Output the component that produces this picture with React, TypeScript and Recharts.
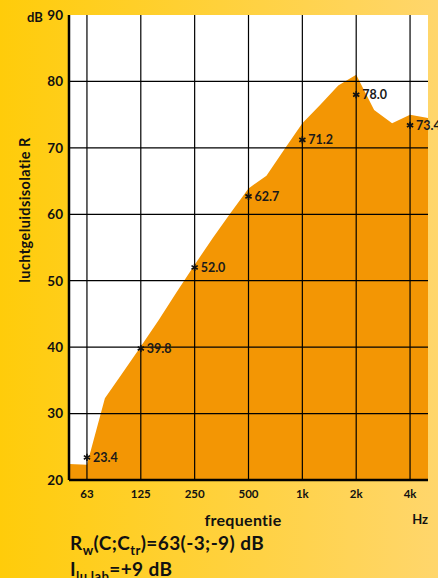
import { ComposedChart, Area, Line, XAxis, YAxis, CartesianGrid, ReferenceLine } from 'recharts';

// third-octave bands (50 Hz .. 5 kHz) and the measured curve
const bands = ['50', '63', '80', '100', '125', '160', '200', '250', '315', '400', '500', '630', '800', '1k', '1.25k', '1.6k', '2k', '2.5k', '3.15k', '4k', '5k'];
const thirdOctaveR = [22.4, 22.3, 32.3, 36.2, 40.1, 44.1, 48.3, 52.4, 56.4, 60.2, 63.9, 65.8, 69.8, 73.7, 76.5, 79.4, 81.0, 75.7, 73.7, 75.0, 74.5];

// octave values shown with a star
const octaveBands = ['63', '125', '250', '500', '1k', '2k', '4k'];
const octaveR = [23.4, 39.8, 52.0, 62.7, 71.2, 78.0, 73.4];

const yTicks = [20, 30, 40, 50, 60, 70, 80, 90];
const gridY = [30, 40, 50, 60, 70, 80];

const FONT = 'Lato, "Open Sans", sans-serif';

const data = bands.map((band, i) => {
  const o = octaveBands.indexOf(band);
  return {
    i,
    band,
    r: thirdOctaveR[i],
    m: o >= 0 ? octaveR[o] : null,
  };
});

const xTicks = octaveBands.map((b) => bands.indexOf(b));

const Star = (props: any) => {
  const { cx, cy, value, index } = props;
  if (value == null || cx == null || cy == null) return <g key={`s${index}`} />;
  const r = 3.6;
  return (
    <g key={`s${index}`}>
      {[90, 30, -30].map((a) => {
        const rad = (a * Math.PI) / 180;
        const dx = Math.cos(rad) * r;
        const dy = Math.sin(rad) * r;
        return (
          <line
            key={a}
            x1={cx - dx}
            y1={cy - dy}
            x2={cx + dx}
            y2={cy + dy}
            stroke='#111'
            strokeWidth={1.7}
          />
        );
      })}
      <text
        x={cx + 6}
        y={cy}
        dy='0.35em'
        fontSize={12.5}
        fontWeight={700}
        fill='#1a1a1a'
        fontFamily={FONT}
      >
        {value.toFixed(1)}
      </text>
    </g>
  );
};

const App = () => {
  return (
    <div
      style={{
        position: 'absolute',
        left: 0,
        top: 0,
        width: 438,
        height: 578,
        overflow: 'hidden',
        background: 'linear-gradient(to right, #FFCC0A, #FFD66C)',
        fontFamily: FONT,
        color: '#111',
      }}
    >
      <ComposedChart
        width={438}
        height={578}
        data={data}
        margin={{ top: 15, right: 10, bottom: 0, left: 0 }}
        style={{ position: 'absolute', left: 0, top: 0 }}
      >
        <CartesianGrid
          fill='#ffffff'
          fillOpacity={1}
          stroke='none'
          horizontal={false}
          vertical={false}
        />
        <XAxis
          type='number'
          dataKey='i'
          domain={[0, bands.length - 1]}
          ticks={xTicks}
          tickFormatter={(v) => bands[v]}
          height={98}
          axisLine={{ stroke: '#000', strokeWidth: 2.5 }}
          tickLine={false}
          tickSize={6}
          tickMargin={4}
          tick={{ fill: '#111', fontSize: 11.5, fontWeight: 700, fontFamily: FONT }}
          interval={0}
        />
        <YAxis
          type='number'
          domain={[20, 90]}
          ticks={yTicks}
          width={69}
          axisLine={{ stroke: '#000', strokeWidth: 2.5 }}
          tickLine={false}
          tickSize={4}
          tickMargin={2}
          tick={{ fill: '#111', fontSize: 13.5, fontWeight: 700, fontFamily: FONT }}
          interval={0}
        />
        <Area
          type='linear'
          dataKey='r'
          fill='#F39604'
          fillOpacity={1}
          stroke='none'
          baseValue={20}
          isAnimationActive={false}
          activeDot={false}
        />
        {xTicks.map((x) => (
          <ReferenceLine
            key={`vx${x}`}
            x={x}
            stroke='#000'
            strokeWidth={1.2}
          />
        ))}
        {gridY.map((y) => (
          <ReferenceLine
            key={`hy${y}`}
            y={y}
            stroke='#000'
            strokeWidth={1.2}
          />
        ))}
        <Line
          type='linear'
          dataKey='m'
          stroke='none'
          dot={Star}
          activeDot={false}
          isAnimationActive={false}
          connectNulls={false}
        />
      </ComposedChart>

      <div style={{ position: 'absolute', left: 27, top: 9, fontSize: 13, fontWeight: 700 }}>dB</div>
      <div
        style={{
          position: 'absolute',
          left: 24,
          top: 210,
          fontSize: 14.5,
          fontWeight: 700,
          letterSpacing: 0.4,
          whiteSpace: 'nowrap',
          transform: 'translate(-50%, -50%) rotate(-90deg)',
        }}
      >
        luchtgeluidsisolatie R
      </div>
      <div
        style={{
          position: 'absolute',
          left: 243,
          top: 519,
          fontSize: 16,
          fontWeight: 700,
          letterSpacing: 0.3,
          transform: 'translate(-50%, -50%)',
        }}
      >
        frequentie
      </div>
      <div
        style={{
          position: 'absolute',
          right: 10,
          top: 519,
          fontSize: 13,
          fontWeight: 700,
          transform: 'translateY(-50%)',
        }}
      >
        Hz
      </div>
      <div style={{ position: 'absolute', left: 70, top: 531, fontSize: 19, fontWeight: 700, letterSpacing: 0.4, whiteSpace: 'nowrap' }}>
        R<sub style={{ fontSize: 13 }}>w</sub>(C;C<sub style={{ fontSize: 13 }}>tr</sub>)=63(-3;-9) dB
      </div>
      <div style={{ position: 'absolute', left: 70, top: 557, fontSize: 19, fontWeight: 700, letterSpacing: 0.4, whiteSpace: 'nowrap' }}>
        I<sub style={{ fontSize: 13 }}>lu,lab</sub>=+9 dB
      </div>
    </div>
  );
};

export default App;
